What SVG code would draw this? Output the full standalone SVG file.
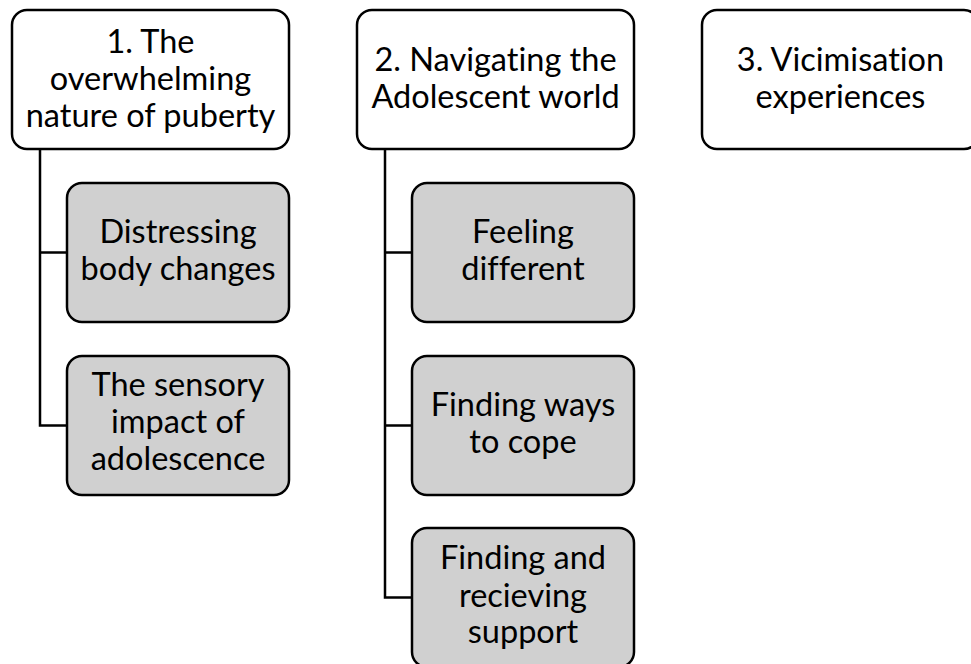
<svg xmlns="http://www.w3.org/2000/svg" width="971" height="664" viewBox="0 0 971 664">
<style>
.top{fill:#ffffff;stroke:#000;stroke-width:2.5}
.sub{fill:#d0d0d0;stroke:#000;stroke-width:2.5}
text{font-family:Lato,"Open Sans",sans-serif;font-size:32.5px;fill:#000;text-anchor:middle;font-variant-ligatures:none}
.conn{fill:none;stroke:#000;stroke-width:2.5}
</style>
<rect width="971" height="664" fill="#fff"/>
<g id="connectors">
<path class="conn" d="M40 149 V425.5 H67 M40 252.5 H67"/>
<path class="conn" d="M385 149 V597.5 H412 M385 252.5 H412 M385 425.5 H412"/>
</g>
<g id="n1">
<rect class="top" x="12" y="10" width="277" height="139" rx="15"/>
<text x="150.5" y="53">1. The</text>
<text x="150.5" y="90">overwhelming</text>
<text x="150.5" y="127">nature of puberty</text>
</g>
<g id="n2">
<rect class="top" x="357" y="10" width="277" height="139" rx="15"/>
<text x="495.5" y="71">2. Navigating the</text>
<text x="495.5" y="108">Adolescent world</text>
</g>
<g id="n3">
<rect class="top" x="702" y="10" width="277" height="139" rx="15"/>
<text x="840.5" y="71">3. Vicimisation</text>
<text x="840.5" y="108">experiences</text>
</g>
<g id="n1a">
<rect class="sub" x="67" y="183" width="222" height="139" rx="15"/>
<text x="178" y="243">Distressing</text>
<text x="178" y="280">body changes</text>
</g>
<g id="n1b">
<rect class="sub" x="67" y="356" width="222" height="139" rx="15"/>
<text x="178" y="396">The sensory</text>
<text x="178" y="433">impact of</text>
<text x="178" y="470">adolescence</text>
</g>
<g id="n2a">
<rect class="sub" x="412" y="183" width="222" height="139" rx="15"/>
<text x="523" y="243">Feeling</text>
<text x="523" y="280">different</text>
</g>
<g id="n2b">
<rect class="sub" x="412" y="356" width="222" height="139" rx="15"/>
<text x="523" y="416">Finding ways</text>
<text x="523" y="453">to cope</text>
</g>
<g id="n2c">
<rect class="sub" x="412" y="528" width="222" height="139" rx="15"/>
<text x="523" y="569">Finding and</text>
<text x="523" y="607">recieving</text>
<text x="523" y="643">support</text>
</g>
</svg>
